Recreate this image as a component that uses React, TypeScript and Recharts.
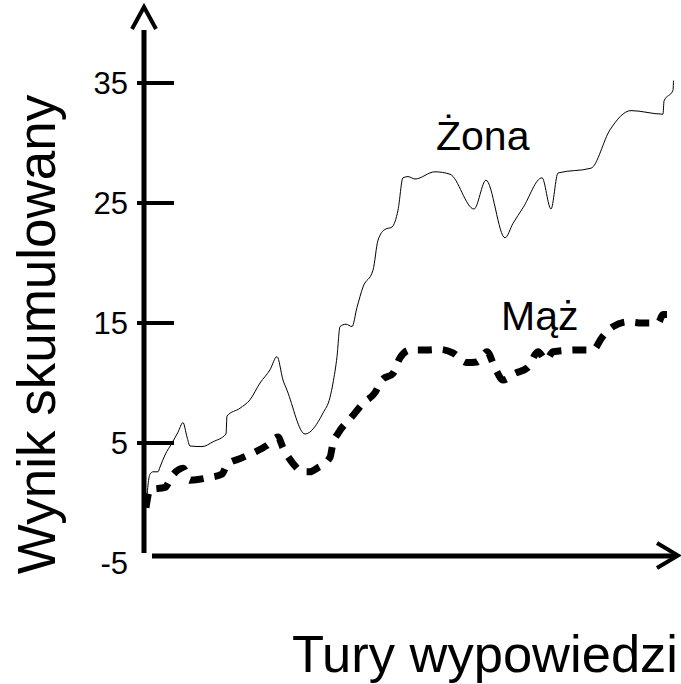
import { LineChart, Line, XAxis, YAxis } from 'recharts'

// tury (oś X) i wynik skumulowany dla obu serii
const zonaTurns = [0.6, 0.8, 1.2, 1.8, 2.8, 3.2, 4.2, 5.6, 6.8, 7.8, 8.6, 9.2, 11.6, 13.8, 16.4, 16.6, 19.2, 21.2, 23.2, 25.2, 26.6, 27.8, 28.6, 32.2, 35.8, 37.2, 37.8, 38.6, 39.2, 40.4, 41.6, 42.6, 43.8, 45.8, 46.8, 48.2, 49.6, 50.8, 51.8, 52.8, 54.2, 58.2, 61.2, 66, 68.4, 72.2, 73.8, 75.8, 79.6, 81.4, 82.8, 89.4, 93.2, 97.4, 103.8, 104, 105.8, 105.9]
const zonaScore = [0.5, 1.5, 2.4, 2.6, 2.6, 3.0, 4.0, 5.0, 5.9, 6.7, 5.5, 4.75, 4.7, 5.1, 5.75, 7.25, 7.9, 8.6, 10, 11.1, 12.2, 10.25, 9.4, 5.75, 7.5, 8.8, 10, 12.2, 14.7, 14.9, 14.7, 16.3, 18, 19.4, 21.9, 22.8, 23, 24.4, 27.1, 27.2, 27, 27.6, 27.4, 24.5, 26.9, 22.1, 23.3, 24.6, 27.1, 24.5, 27.5, 27.9, 31.1, 32.7, 32.4, 33.5, 34.4, 35.2]

const mazTurns = [0.4, 1.2, 4.2, 5.6, 7.8, 9.2, 12.8, 15.6, 16.6, 19.2, 22.2, 24.6, 26.8, 27.8, 29.8, 31.8, 33.2, 34.6, 37.2, 37.8, 38.8, 41.6, 43.8, 46.2, 47.6, 49.8, 51.2, 53.2, 56.6, 59.2, 61.8, 64.6, 66.6, 68.6, 70.2, 71.8, 74.2, 76.8, 78.8, 80.4, 81.8, 86.8, 89.8, 91.6, 93.8, 96.8, 99.6, 102.8, 103.8, 104.6]
const mazScore = [-0.4, 1.1, 1.3, 2.25, 2.9, 1.9, 2.1, 2.4, 3.2, 3.7, 4.25, 4.8, 5.5, 4.6, 3.3, 2.6, 2.6, 2.9, 3.8, 5, 5.8, 7.2, 8.3, 9.2, 10.25, 10.8, 12.1, 12.75, 12.75, 12.8, 12.5, 11.7, 11.75, 12.6, 11.25, 10.25, 10.8, 11.3, 12.6, 11.9, 12.6, 12.75, 12.75, 13.8, 14.7, 15.1, 15, 15, 15.7, 15.7]

const yTicks = [-5, 5, 15, 25, 35]

const zona = zonaTurns.map((t, i) => ({ t, v: zonaScore[i] }))
const maz = mazTurns.map((t, i) => ({ t, v: mazScore[i] }))

const font = '"Liberation Sans", Arial, sans-serif'

const YTick = ({ y, payload }: any) => (
  <g>
    {payload.value !== -5 && <line x1={137} x2={174} y1={y} y2={y} stroke="#000" strokeWidth={4} />}
    <text x={128} y={y + 11} textAnchor="end" fontSize={31} fontFamily={font} fill="#000">
      {payload.value}
    </text>
  </g>
)

export default function App() {
  return (
    <div style={{ width: 681, height: 684 }}>
      <style>{'body{margin:0}'}</style>
      <LineChart width={681} height={684} data={zona} margin={{ top: 23, right: 7, bottom: 121, left: 84 }}>
        <XAxis dataKey="t" type="number" domain={[0, 106]} hide />
        <YAxis type="number" domain={[-5, 40]} ticks={yTicks} width={60} axisLine={false} tickLine={false} tick={<YTick />} interval={0} />
        <Line data={zona} dataKey="v" type="monotone" stroke="#000" strokeWidth={1} dot={false} isAnimationActive={false} />
        <Line data={maz} dataKey="v" type="monotone" stroke="#000" strokeWidth={7} strokeDasharray="14 11" dot={false} isAnimationActive={false} />

        {/* osie ze strzałkami */}
        <line x1={144} x2={144} y1={30} y2={553} stroke="#000" strokeWidth={5} />
        <polyline points="132,29 144,7 156,29" fill="none" stroke="#000" strokeWidth={4} />
        <line x1={152} x2={676} y1={556} y2={556} stroke="#000" strokeWidth={5} />
        <polyline points="657,543 678,555.5 657,568" fill="none" stroke="#000" strokeWidth={4} />

        <text x={436} y={150} fontSize={41} fontFamily={font} fill="#000">Żona</text>
        <text x={501} y={330} fontSize={41} fontFamily={font} fill="#000">Mąż</text>
        <text transform="translate(55,334.5) rotate(-90)" textAnchor="middle" fontSize={53} fontFamily={font} fill="#000">
          Wynik skumulowany
        </text>
        <text x={678} y={672} textAnchor="end" fontSize={52.5} fontFamily={font} fill="#000">Tury wypowiedzi</text>
      </LineChart>
    </div>
  )
}
